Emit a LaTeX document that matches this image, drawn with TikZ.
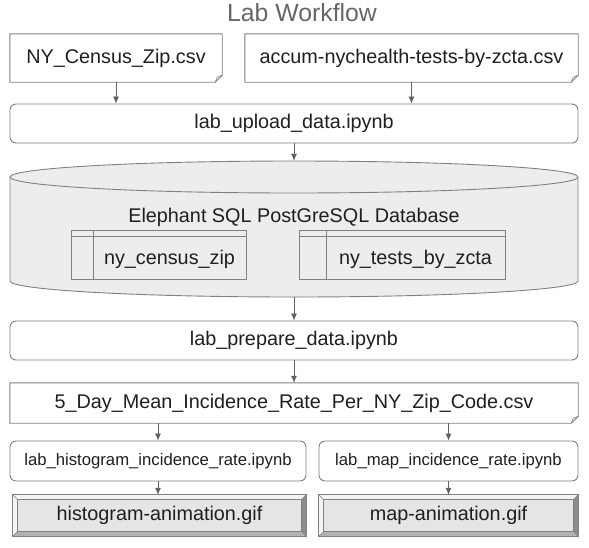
\documentclass[tikz,border=0pt]{standalone}
\usepackage{fontspec}
\setmainfont{Liberation Sans}
\usetikzlibrary{arrows.meta}
\begin{document}
\begin{tikzpicture}[x=1pt,y=-1pt,
  lbl/.style={font=\fontsize{19.8}{23}\selectfont, text=black!88},
  smalllbl/.style={font=\fontsize{16.7}{20}\selectfont, text=black!88},
  boxline/.style={draw=black!50, line width=0.9pt},
  procbox/.style={lbl, boxline, rounded corners=6pt, fill=white, inner sep=0pt},
  plain/.style={inner sep=0pt},
  arr/.style={draw=black!62, line width=0.8pt, -{Latex[length=7pt,width=6pt]}},
]
\useasboundingbox (0,0) rectangle (589,547);

\node[font=\fontsize{24.8}{28}\selectfont, text=black!60] (title) at (302,13) {Lab Workflow};

% file nodes
\node[plain, lbl, minimum width=212pt, minimum height=48pt] (ny) at (116,58) {};
\node[plain, lbl, minimum width=333pt, minimum height=48pt] (accum) at (411.5,58) {};
\node[plain, lbl, minimum width=568pt, minimum height=40pt] (csv5) at (294,403) {};
\foreach \n in {ny,accum,csv5}{
  \draw[boxline, fill=white] (\n.north west) -- (\n.north east) -- ([yshift=7pt]\n.south east)
     -- ([xshift=-7pt]\n.south east) -- (\n.south west) -- cycle;
  \draw[draw=black!50, line width=0.6pt] ([yshift=7pt]\n.south east) -- ([xshift=-5pt,yshift=5pt]\n.south east) -- ([xshift=-7pt]\n.south east);
}
\node[lbl] at (ny) {NY\_Census\_Zip.csv};
\node[lbl] at (accum) {accum-nychealth-tests-by-zcta.csv};
\node[lbl] at (csv5) {5\_Day\_Mean\_Incidence\_Rate\_Per\_NY\_Zip\_Code.csv};

% process nodes
\node[procbox, minimum width=568pt, minimum height=39pt] (upload) at (294,123.5) {lab\_upload\_data.ipynb};
\node[procbox, minimum width=568pt, minimum height=39pt] (prep) at (294,340.5) {lab\_prepare\_data.ipynb};
\node[procbox, smalllbl, minimum width=296pt, minimum height=40pt] (hist) at (158,461) {lab\_histogram\_incidence\_rate.ipynb};
\node[procbox, smalllbl, minimum width=259pt, minimum height=40pt] (map) at (448.5,461) {lab\_map\_incidence\_rate.ipynb};

% database cylinder
\node[plain, minimum width=568pt, minimum height=136pt] (db) at (294,229) {};
\fill[black!7] (10,177) -- (10,281) arc[start angle=180, end angle=360, x radius=284pt, y radius=16pt] -- (578,177) -- cycle;
\draw[boxline] (10,177) -- (10,281) arc[start angle=180, end angle=360, x radius=284pt, y radius=16pt] -- (578,177);
\draw[boxline, fill=black!7] (294,177) ellipse[x radius=284pt, y radius=16pt];
\node[lbl] (dblabel) at (294,217) {Elephant SQL PostGreSQL Database};

% tables
\node[plain, minimum width=174pt, minimum height=48pt] (t1) at (159,255) {};
\node[plain, minimum width=205pt, minimum height=48pt] (t2) at (402.5,255) {};
\foreach \n/\vx in {t1/93,t2/326}{
  \draw[boxline, fill=black!7] (\n.north west) rectangle (\n.south east);
  \draw[boxline] ([yshift=-6pt]\n.north west) -- ([yshift=-6pt]\n.north east);
  \draw[boxline] (\vx,0 |- \n.north) -- (\vx,0 |- \n.south);
}
\node[lbl] at (169.5,259) {ny\_census\_zip};
\node[lbl] at (415.5,259) {ny\_tests\_by\_zcta};

% bevel (gif) nodes
\node[plain, lbl, minimum width=293pt, minimum height=41pt] (hgif) at (159.5,515.5) {};
\node[plain, lbl, minimum width=259pt, minimum height=41pt] (mgif) at (448.5,515.5) {};
\foreach \n in {hgif,mgif}{
  \coordinate (inw) at ([xshift=5pt,yshift=-5pt]\n.north west);
  \coordinate (ine) at ([xshift=-5pt,yshift=-5pt]\n.north east);
  \coordinate (isw) at ([xshift=5pt,yshift=5pt]\n.south west);
  \coordinate (ise) at ([xshift=-5pt,yshift=5pt]\n.south east);
  \fill[black!4] (\n.north west) -- (\n.north east) -- (ine) -- (inw) -- cycle;
  \fill[black!4] (\n.north west) -- (inw) -- (isw) -- (\n.south west) -- cycle;
  \fill[black!45] (\n.north east) -- (\n.south east) -- (ise) -- (ine) -- cycle;
  \fill[black!30] (\n.south west) -- (\n.south east) -- (ise) -- (isw) -- cycle;
  \draw[boxline, fill=black!10] (inw) rectangle (ise);
  \draw[draw=black!50, line width=0.6pt] (\n.north west) -- (inw) (\n.north east) -- (ine) (\n.south west) -- (isw) (\n.south east) -- (ise);
  \draw[boxline] (\n.north west) rectangle (\n.south east);
}
\node[lbl] at (hgif) {histogram-animation.gif};
\node[lbl] at (mgif) {map-animation.gif};

% connectors
\draw[arr] (ny.south) -- (ny.south |- upload.north);
\draw[arr] (accum.south) -- (accum.south |- upload.north);
\draw[arr] (upload.south) -- (db.north);
\draw[arr] (db.south) -- (prep.north);
\draw[arr] (prep.south) -- (csv5.north);
\draw[arr] (hist.north |- csv5.south) -- (hist.north);
\draw[arr] (map.north |- csv5.south) -- (map.north);
\draw[arr] (hist.south) -- (hist.south |- hgif.north);
\draw[arr] (map.south) -- (map.south |- mgif.north);
\end{tikzpicture}
\end{document}
